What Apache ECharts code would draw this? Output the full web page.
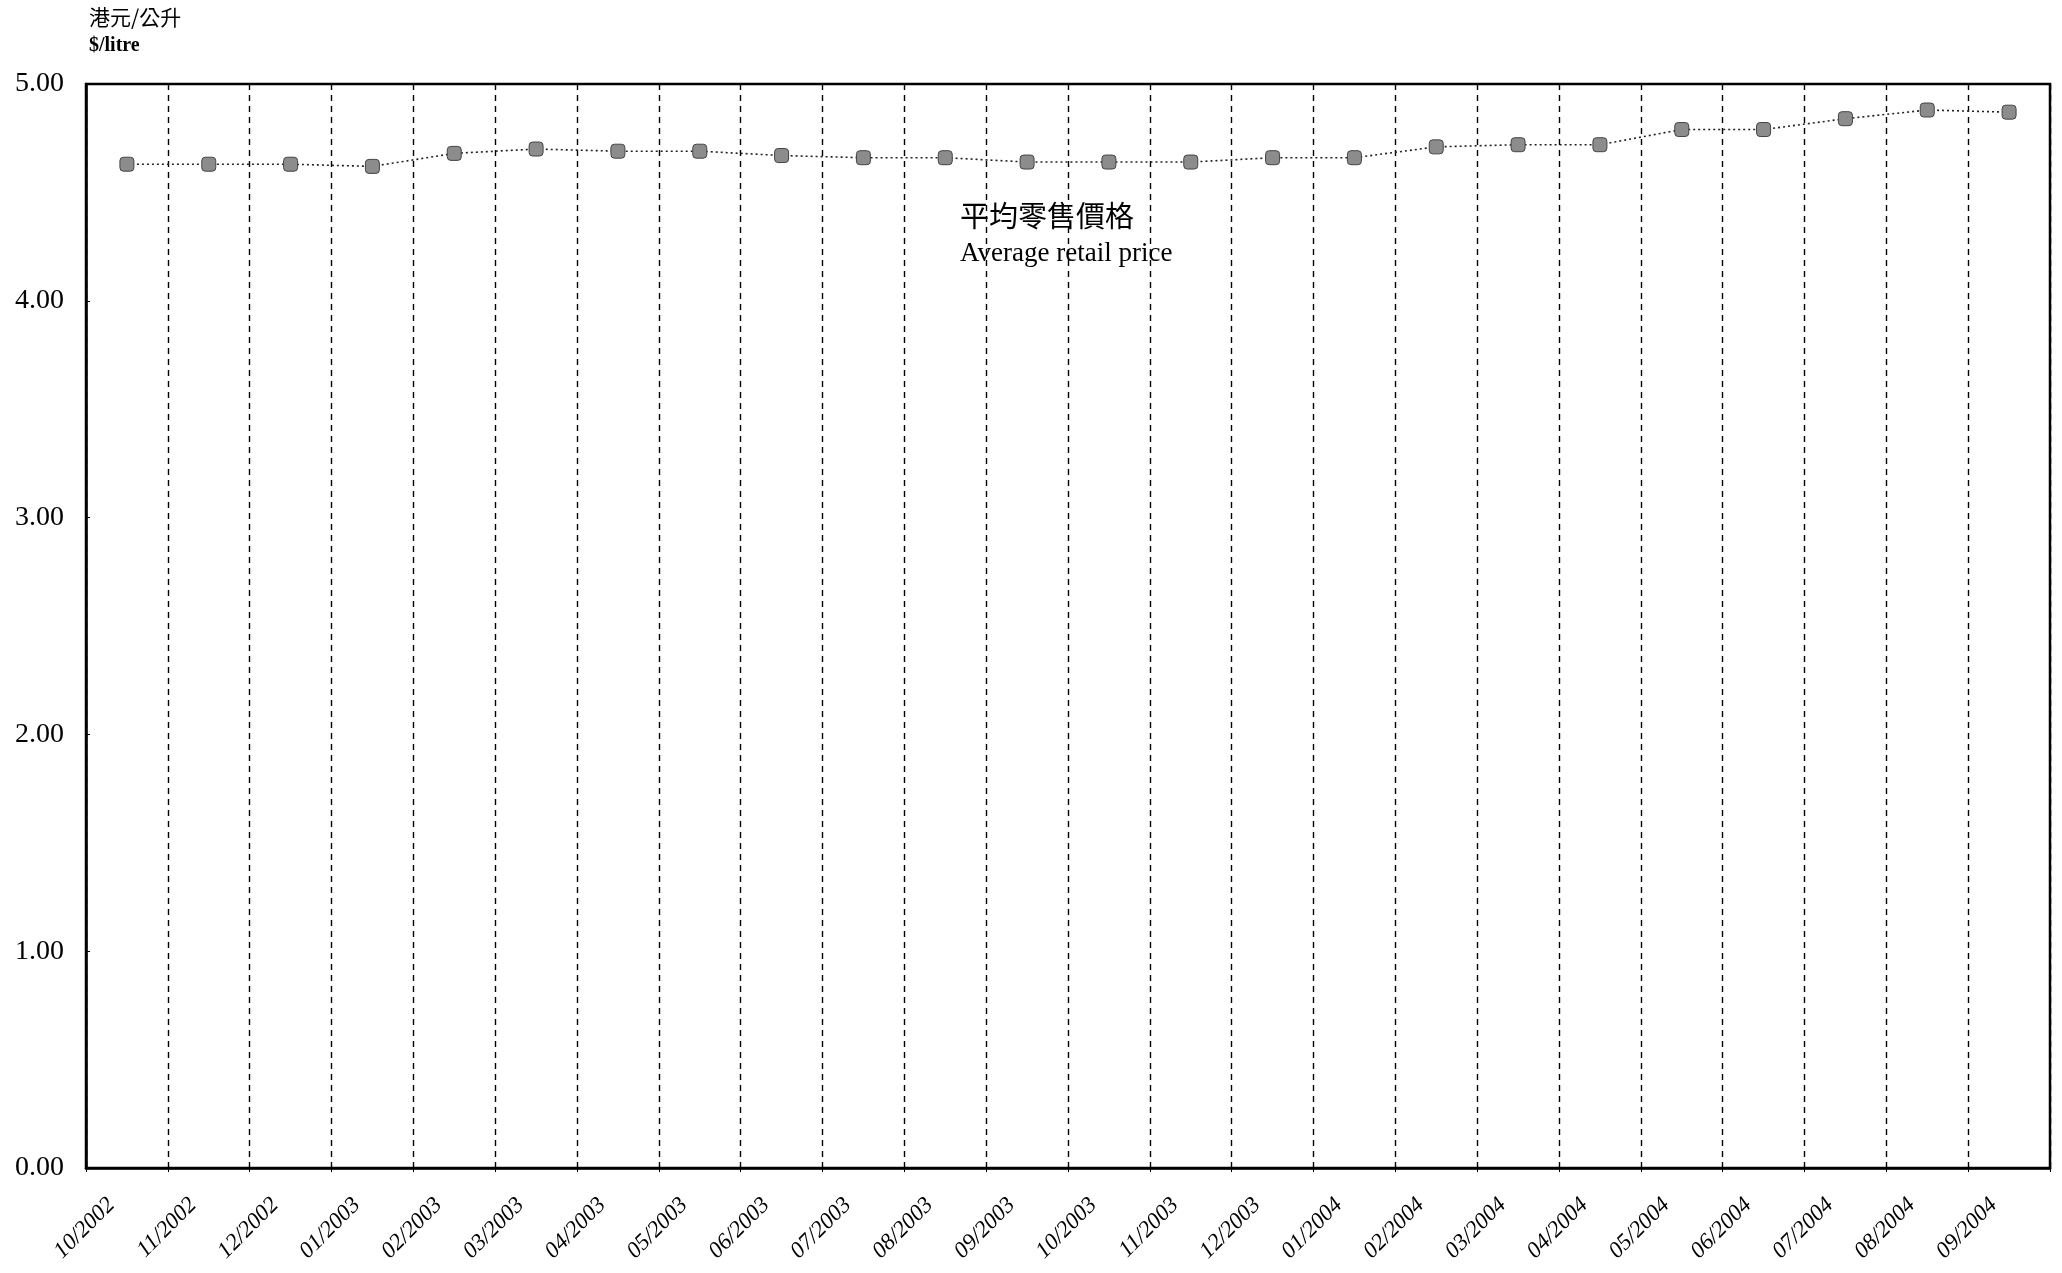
<!DOCTYPE html>
<html>
<head>
<meta charset="utf-8">
<script src="https://cdn.jsdelivr.net/npm/echarts@6/dist/echarts.min.js"></script>
<style>
html,body{margin:0;padding:0;background:#fff;}
#chart{width:2062px;height:1273px;}
</style>
</head>
<body>
<div id="chart"></div>
<script>
var months = ['10/2002','11/2002','12/2002','01/2003','02/2003','03/2003','04/2003','05/2003','06/2003','07/2003','08/2003','09/2003','10/2003','11/2003','12/2003','01/2004','02/2004','03/2004','04/2004','05/2004','06/2004','07/2004','08/2004','09/2004'];
var avgRetailPrice = [4.63,4.63,4.63,4.62,4.68,4.70,4.69,4.69,4.67,4.66,4.66,4.64,4.64,4.64,4.66,4.66,4.71,4.72,4.72,4.79,4.79,4.84,4.88,4.87];
var yTicks = [0,1,2,3,4,5];
var unitCn = '港元/公升';
var unitEn = '$/litre';
var seriesCn = '平均零售價格';
var seriesEn = 'Average retail price';

var chart = echarts.init(document.getElementById('chart'));
var serif = '"Liberation Serif", "DejaVu Serif", serif';
chart.setOption({
  backgroundColor: '#fff',
  animation: false,
  grid: {left: 86, right: 12, top: 84, bottom: 105, show: true, borderColor: '#000', borderWidth: 2.5, backgroundColor: 'transparent'},
  xAxis: {
    type: 'category',
    data: months,
    boundaryGap: true,
    axisLine: {show: true, lineStyle: {color: '#000', width: 2.5}},
    axisTick: {show: true, interval: 0, length: 4, inside: false, lineStyle: {color: '#000'}},
    splitLine: {show: true, interval: 0, lineStyle: {color: '#000', type: [6, 5], width: 1.4}},
    axisLabel: {interval: 0, rotate: 45, margin: 18, padding: [0, 22, 0, 0], color: '#000', fontFamily: serif, fontSize: 23, fontStyle: 'italic'}
  },
  yAxis: {
    type: 'value',
    min: 0, max: 5, interval: 1,
    axisLine: {show: true, lineStyle: {color: '#000', width: 2.5}},
    axisTick: {show: true, inside: true, length: 4, lineStyle: {color: '#000'}},
    splitLine: {show: false},
    axisLabel: {margin: 22, color: '#000', fontFamily: serif, fontSize: 28,
      formatter: function (v) { return yTicks.indexOf(v) >= 0 ? v.toFixed(2) : ''; }}
  },
  series: [{
    type: 'line',
    data: avgRetailPrice,
    symbol: 'roundRect',
    symbolSize: 14,
    showAllSymbol: true,
    lineStyle: {color: '#222', width: 1.6, type: [2, 3]},
    itemStyle: {color: '#8c8c8c', borderColor: '#444', borderWidth: 1}
  }],
  graphic: [
    {type: 'text', left: 89, top: 7, style: {text: unitCn, font: '21px "Noto Sans CJK TC", sans-serif', fill: '#000'}},
    {type: 'text', left: 89, top: 36, style: {text: unitEn, font: 'bold 20px ' + serif, fill: '#000'}},
    {type: 'text', left: 960, top: 201, style: {text: seriesCn, font: '29px "Noto Sans CJK TC", sans-serif', fill: '#000'}},
    {type: 'text', left: 960, top: 240, style: {text: seriesEn, font: '27px ' + serif, fill: '#000'}}
  ]
});
</script>
</body>
</html>
